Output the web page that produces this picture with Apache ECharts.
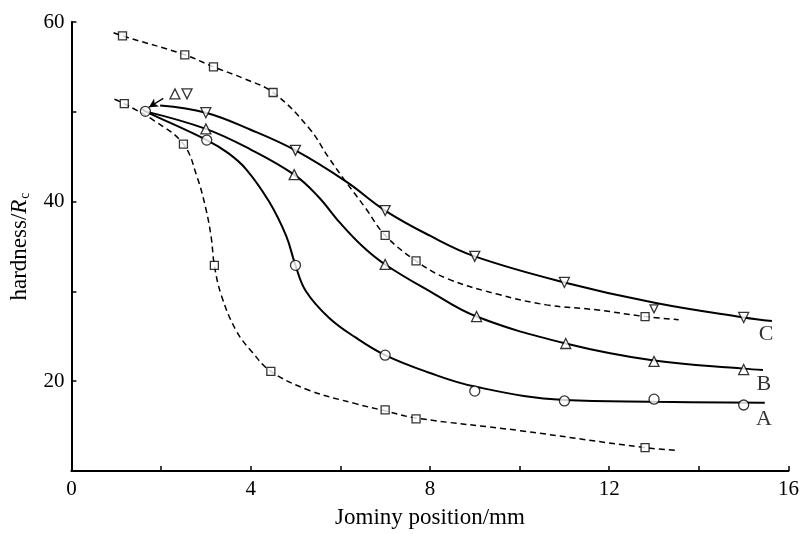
<!DOCTYPE html>
<html>
<head>
<meta charset="utf-8">
<script src="https://cdn.jsdelivr.net/npm/echarts@6/dist/echarts.min.js"></script>
<style>
  html, body { margin: 0; padding: 0; background: #fff; }
  #main { width: 802px; height: 534px; }
</style>
</head>
<body>
<div id="main"></div>
<script>
// traced curves [x, y]
var curveA = [[1.58, 50.3], [1.65, 50.05], [3.02, 46.85], [3.5, 45.4], [3.9, 43.6], [4.41, 40.0], [4.79, 36.2], [5.0, 32.9],
    [5.23, 30.05], [5.74, 27.1], [6.33, 24.9], [7.0, 22.9], [7.95, 21.0], [9.0, 19.4], [11.0, 17.9], [13.0, 17.7], [15.47, 17.6]];
var curveB = [[1.65, 50.05], [3.0, 48.1], [4.0, 45.8], [4.97, 43.0], [5.5, 40.6], [6.0, 37.6], [6.5, 35.0], [7.0, 33.0],
    [8.0, 30.0], [9.04, 27.2], [11.03, 24.2], [13.0, 22.3], [15.0, 21.4], [15.43, 21.25]];
var curveC = [[1.98, 50.7], [3.0, 49.9], [4.0, 48.0], [5.0, 45.7], [6.14, 42.2], [7.0, 39.0], [8.0, 36.2], [9.0, 33.9],
    [11.0, 31.0], [13.04, 28.7], [15.0, 27.1], [15.63, 26.7]];
var dashUpper = [[0.94, 58.8], [1.14, 58.45], [2.53, 56.35], [3.17, 55.0], [3.85, 53.7], [4.5, 52.15], [5.3, 48.2],
    [5.74, 44.9], [6.14, 42.1], [6.56, 39.3], [7.0, 36.25], [7.69, 33.4], [8.4, 31.4], [9.5, 29.7], [10.6, 28.5],
    [11.71, 27.95], [12.8, 27.2], [13.55, 26.85]];
var dashLower = [[0.96, 51.4], [1.18, 50.9], [1.85, 49.0], [2.5, 46.4], [2.8, 42.8], [3.0, 39.2], [3.12, 36.0],
    [3.19, 32.9], [3.35, 29.5], [3.68, 25.6], [4.04, 23.2], [4.45, 21.1], [5.3, 19.0], [6.34, 17.5], [7.0, 16.7],
    [7.69, 15.9], [10.0, 14.5], [12.8, 12.6], [13.55, 12.3]];

// measured points
var squaresUpper = [[1.14, 58.45], [2.53, 56.35], [3.17, 55.0], [4.5, 52.15], [7.0, 36.25], [7.69, 33.4], [12.8, 27.2]];
var squaresLower = [[1.18, 50.9], [2.5, 46.4], [3.19, 32.9], [4.45, 21.1], [7.0, 16.8], [7.69, 15.8], [12.8, 12.6]];
var circlesA = [[1.65, 50.05], [3.02, 46.85], [5.0, 32.9], [7.0, 22.9], [9.0, 18.9], [11.0, 17.8], [13.0, 18.0], [15.0, 17.35]];
var trianglesB = [[3.0, 48.1], [4.97, 43.0], [7.0, 33.0], [9.04, 27.2], [11.03, 24.2], [13.0, 22.2], [15.0, 21.3], [2.31, 52.0]];
var trianglesC = [[3.0, 49.9], [5.0, 45.7], [7.0, 39.0], [9.0, 33.9], [11.0, 31.0], [15.0, 27.1], [2.58, 52.0]];
var smallTriangleC = [[13.0, 28.05]];

var curveLabels = [[15.45, 15.8, 'A'], [15.45, 19.7, 'B'], [15.5, 25.2, 'C']];
var arrowFrom = [2.05, 51.5];
var arrowTo = [1.73, 50.5];

var font = 'Liberation Serif';

function curve(data, dashed) {
    return {
        type: 'line', data: data, smooth: 0.4, showSymbol: false, silent: true,
        lineStyle: { color: '#000', width: dashed ? 1.5 : 2, type: dashed ? [6, 4] : 'solid' }
    };
}
function marks(data, symbol, size, rotate) {
    return {
        type: 'scatter', data: data, symbol: symbol, symbolSize: size, symbolRotate: rotate || 0, silent: true,
        itemStyle: { color: '#fff', borderColor: '#000', borderWidth: 1.3 }, z: 5
    };
}

var option = {
    animation: false,
    grid: { left: 70.6, right: 8, top: 22, bottom: 59.5 },
    xAxis: {
        type: 'value', min: 0, max: 16, interval: 2,
        name: 'Jominy position/mm', nameLocation: 'middle', nameGap: 35,
        nameTextStyle: { fontFamily: font, fontSize: 23, color: '#000' },
        axisLine: { onZero: false, lineStyle: { color: '#000', width: 2 } },
        axisTick: { inside: true, length: 5, lineStyle: { color: '#000', width: 1.5 } },
        axisLabel: {
            fontFamily: font, fontSize: 21, color: '#000', margin: 8,
            formatter: function (v) { return v % 4 === 0 ? v : ''; }
        },
        splitLine: { show: false }
    },
    yAxis: {
        type: 'value', min: 10, max: 60, interval: 10,
        name: '{t|hardness/}{i|R}{s|c}', nameLocation: 'middle', nameGap: 36, nameRotate: 90,
        nameTextStyle: {
            fontFamily: font, fontSize: 23, color: '#000',
            rich: {
                t: { fontFamily: font, fontSize: 23, color: '#000' },
                i: { fontFamily: font, fontSize: 23, fontStyle: 'italic', color: '#000' },
                s: { fontFamily: font, fontSize: 14, color: '#000', padding: [12, 0, 0, 1] }
            }
        },
        axisLine: { lineStyle: { color: '#000', width: 2 } },
        axisTick: { inside: true, length: 5, lineStyle: { color: '#000', width: 1.5 } },
        axisLabel: {
            fontFamily: font, fontSize: 21, color: '#000', margin: 7,
            formatter: function (v) { return v % 20 === 0 ? v : ''; }
        },
        splitLine: { show: false }
    },
    series: [
        curve(curveA, false), curve(curveB, false), curve(curveC, false),
        curve(dashUpper, true), curve(dashLower, true),
        marks(squaresUpper, 'rect', 8), marks(squaresLower, 'rect', 8),
        marks(circlesA, 'circle', 10), marks(trianglesB, 'triangle', 10),
        marks(trianglesC, 'triangle', 10, 180), marks(smallTriangleC, 'triangle', 8, 180),
        {
            type: 'scatter', data: curveLabels, symbolSize: 0, silent: true,
            label: {
                show: true, position: 'inside', fontFamily: font, fontSize: 22, color: '#000',
                formatter: function (p) { return p.value[2]; }
            },
            markLine: {
                silent: true, symbol: ['none', 'arrow'], symbolSize: [7, 9],
                label: { show: false },
                lineStyle: { color: '#000', width: 1.3, type: 'solid' },
                data: [[{ coord: arrowFrom }, { coord: arrowTo }]]
            }
        }
    ]
};

var myChart = echarts.init(document.getElementById('main'));
myChart.setOption(option);
</script>
</body>
</html>
